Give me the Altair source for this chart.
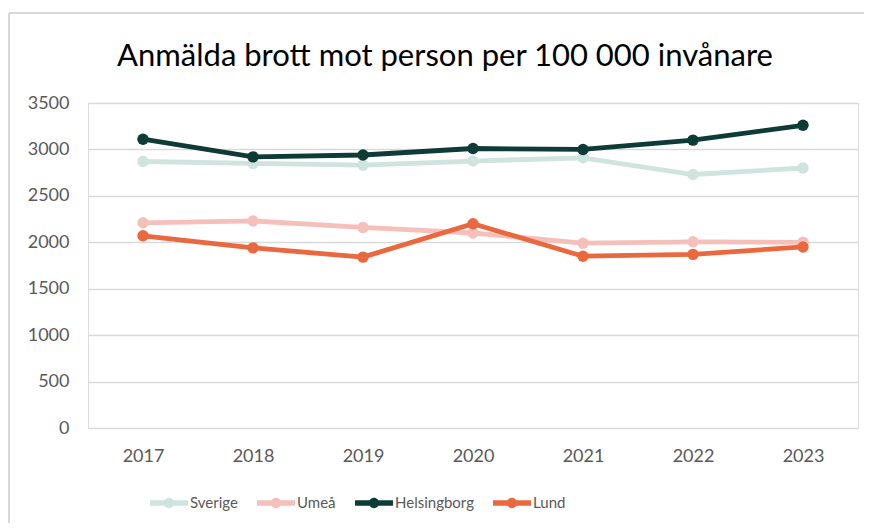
import altair as alt
import pandas as pd

years = ["2017", "2018", "2019", "2020", "2021", "2022", "2023"]
series = ["Sverige", "Umeå", "Helsingborg", "Lund"]
colors = ["#cfe3df", "#f6c0ba", "#0e3b36", "#ea683d"]
sverige = [2870, 2850, 2830, 2875, 2910, 2730, 2800]
umea = [2210, 2230, 2160, 2100, 1990, 2005, 2000]
helsingborg = [3110, 2920, 2940, 3010, 3000, 3100, 3260]
lund = [2070, 1940, 1840, 2200, 1850, 1870, 1950]
y_ticks = [0, 500, 1000, 1500, 2000, 2500, 3000, 3500]
title_text = "Anmälda brott mot person per 100 000 invånare"

rows = []
for name, vals in zip(series, [sverige, umea, helsingborg, lund]):
    for yr, v in zip(years, vals):
        rows.append({"År": yr, "Värde": v, "Serie": name, "order": series.index(name)})
df = pd.DataFrame(rows)

FONT = "Lato"
GRAY = "#595959"

x_enc = alt.X("År:N", sort=years, scale=alt.Scale(paddingInner=0, paddingOuter=0.5),
              axis=alt.Axis(title=None, labelAngle=0, ticks=False, domain=False, grid=False,
                            labelPadding=19, labelFontSize=18, labelColor=GRAY, labelFont=FONT))
y_enc = alt.Y("Värde:Q", scale=alt.Scale(domain=[0, 3500], nice=False),
              axis=alt.Axis(title=None, values=y_ticks, ticks=False, domain=False, format="d",
                            labelPadding=19, labelFontSize=18, labelColor=GRAY, labelFont=FONT,
                            gridColor="#d9d9d9", gridWidth=1.5))
color_scale = alt.Scale(domain=series, range=colors)

sym = ("M-1,-0.14 L1,-0.14 L1,0.14 L-1,0.14 Z "
       "M-0.27,0 A0.27,0.27 0 1,1 0.27,0 A0.27,0.27 0 1,1 -0.27,0 Z")
leg = alt.Legend(title=None, orient="none", direction="horizontal",
                 legendX=62, legendY=381, symbolType=sym, symbolSize=1444,
                 symbolStrokeWidth=0, symbolFillColor="#000", labelFontSize=15, labelColor=GRAY,
                 labelFont=FONT, columnPadding=19, labelOffset=2)

base = alt.Chart(df)

lines = base.mark_line(strokeWidth=4.8).encode(
    x=x_enc, y=y_enc,
    color=alt.Color("Serie:N", scale=color_scale, legend=leg),
    order=alt.Order("order:Q"),
)

points = base.mark_circle(size=130, opacity=1).encode(
    x=x_enc, y=y_enc,
    color=alt.Color("Serie:N", scale=color_scale, legend=leg),
)

title = alt.Chart(pd.DataFrame({"t": [title_text]})).mark_text(
    fontSize=31, font=FONT, color="#000000", align="center", baseline="middle"
).encode(x=alt.value(357), y=alt.value(-46), text="t:N")

border_top = alt.Chart(pd.DataFrame({"a": [0]})).mark_rule(color="#d9d9d9", strokeWidth=2).encode(
    x=alt.value(-79), x2=alt.value(776), y=alt.value(-90))
border_left = alt.Chart(pd.DataFrame({"a": [0]})).mark_rule(color="#d9d9d9", strokeWidth=2).encode(
    x=alt.value(-79), y=alt.value(-90), y2=alt.value(420))

chart = alt.layer(border_top, border_left, title, lines, points).properties(
    width=770, height=325,
    padding={"left": 80, "top": 95, "right": 6, "bottom": 95},
    autosize=alt.AutoSizeParams(type="none"),
).configure_view(stroke=None).configure(background="white")

chart.save("out.html", embed_options={"renderer": "svg", "actions": False})
